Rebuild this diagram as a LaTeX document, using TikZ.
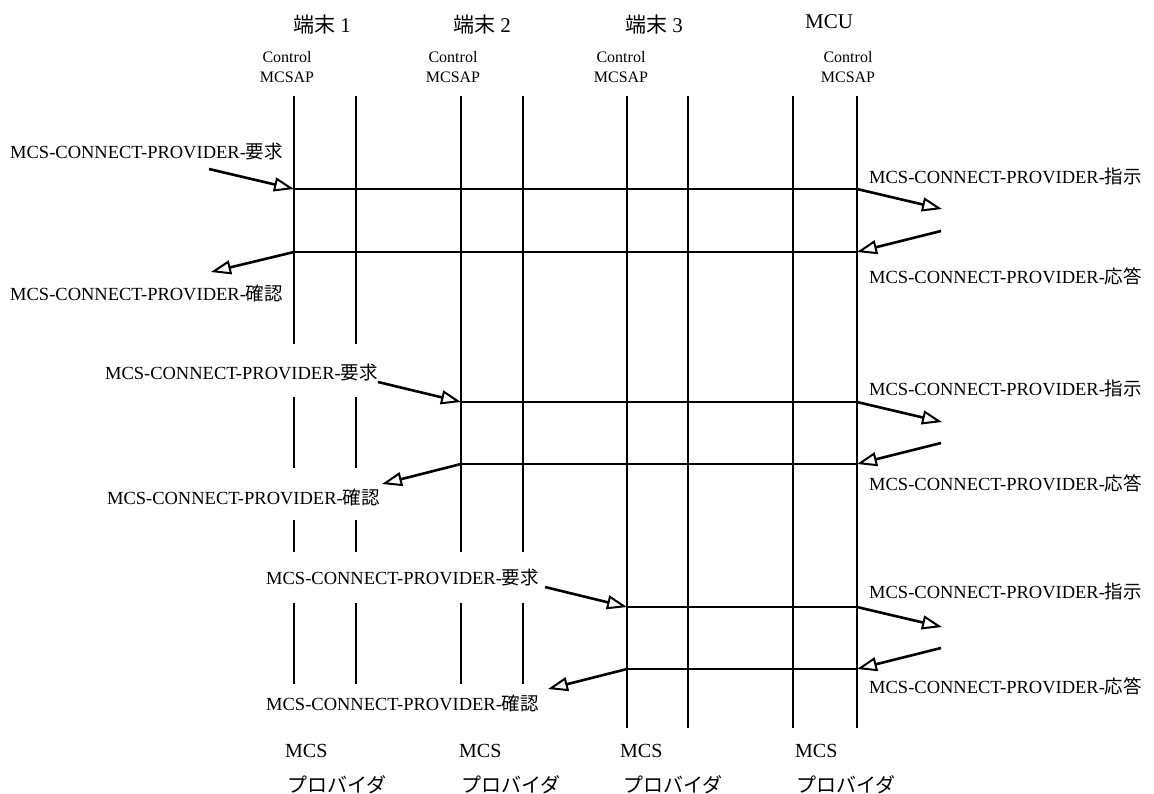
\documentclass[tikz,border=0pt]{standalone}
\usepackage{fontspec}
\setmainfont{Liberation Serif}
\newfontfamily\cjk{Noto Sans CJK JP}
\usetikzlibrary{arrows.meta}

\begin{document}
\begin{tikzpicture}[x=1pt,y=-1pt,
  lifeline/.style={line width=2pt},
  msg/.style={line width=2.2pt},
  prim/.style={line width=2.6pt,-{Triangle[open,length=20pt,width=14pt,line width=2pt]}},
  lbl/.style={font=\fontsize{18.5}{20}\selectfont, inner sep=0pt},
  head/.style={font=\fontsize{21}{24}\selectfont, inner sep=0pt},
  sap/.style={font=\fontsize{16}{20}\selectfont, inner sep=0pt, align=center},
  prov/.style={font=\fontsize{20}{24}\selectfont, inner sep=0pt, anchor=west},
]
\useasboundingbox (0,0) rectangle (1154,793);

% ---- headings ----
\node[head] (h1) at (322,25) {{\cjk 端末} 1};
\node[head] (h2) at (482,25) {{\cjk 端末} 2};
\node[head] (h3) at (654,25) {{\cjk 端末} 3};
\node[head] (h4) at (829,22) {MCU};

\node[sap] (s1) at (287,67) {Control\\MCSAP};
\node[sap] (s2) at (453,67) {Control\\MCSAP};
\node[sap] (s3) at (621,67) {Control\\MCSAP};
\node[sap] (s4) at (848,67) {Control\\MCSAP};

% ---- lifelines ----
% terminal 1: broken where the left-hand labels cross it
\foreach \x in {294,356} {
  \draw[lifeline] (\x,96) -- (\x,344) (\x,397) -- (\x,468)
                  (\x,520) -- (\x,552) (\x,603) -- (\x,684);
}
% terminal 2
\foreach \x in {461,523} {
  \draw[lifeline] (\x,96) -- (\x,552) (\x,603) -- (\x,684);
}
% terminal 3 and MCU
\foreach \x in {627,688,793,857} {
  \draw[lifeline] (\x,96) -- (\x,728);
}

% ---- connection points ----
\coordinate (q1a) at (294,189); \coordinate (q1b) at (857,189);
\coordinate (p1a) at (294,252); \coordinate (p1b) at (857,252);
\coordinate (q2a) at (461,402); \coordinate (q2b) at (857,402);
\coordinate (p2a) at (461,464); \coordinate (p2b) at (857,464);
\coordinate (q3a) at (627,607); \coordinate (q3b) at (857,607);
\coordinate (p3a) at (627,669); \coordinate (p3b) at (857,669);

% free ends of the primitive arrows
\coordinate (req1) at (209,169); \coordinate (cnf1) at (211,272);
\coordinate (ind1) at (942,209); \coordinate (rsp1) at (941,231);
\coordinate (req2) at (378,382); \coordinate (cnf2) at (382,484);
\coordinate (ind2) at (942,422); \coordinate (rsp2) at (941,443);
\coordinate (req3) at (545,587); \coordinate (cnf3) at (548,689);
\coordinate (ind3) at (942,627); \coordinate (rsp3) at (941,648);

% ---- MCS paths ----
\draw[msg] (q1a) -- (q1b);
\draw[msg] (p1a) -- (p1b);
\draw[msg] (q2a) -- (q2b);
\draw[msg] (p2a) -- (p2b);
\draw[msg] (q3a) -- (q3b);
\draw[msg] (p3a) -- (p3b);

% ---- service primitives ----
\draw[prim] (req1) -- (q1a);
\draw[prim] (q1b) -- (ind1);
\draw[prim] (rsp1) -- (p1b);
\draw[prim] (p1a) -- (cnf1);

\draw[prim] (req2) -- (q2a);
\draw[prim] (q2b) -- (ind2);
\draw[prim] (rsp2) -- (p2b);
\draw[prim] (p2a) -- (cnf2);

\draw[prim] (req3) -- (q3a);
\draw[prim] (q3b) -- (ind3);
\draw[prim] (rsp3) -- (p3b);
\draw[prim] (p3a) -- (cnf3);

% ---- primitive labels ----
\node[lbl,anchor=west] (lq1) at (10,152)  {MCS-CONNECT-PROVIDER-{\cjk 要求}};
\node[lbl,anchor=west] (lc1) at (10,293)  {MCS-CONNECT-PROVIDER-{\cjk 確認}};
\node[lbl,anchor=west] (li1) at (869,176) {MCS-CONNECT-PROVIDER-{\cjk 指示}};
\node[lbl,anchor=west] (lr1) at (869,276) {MCS-CONNECT-PROVIDER-{\cjk 応答}};

\node[lbl,anchor=east] (lq2) at (378,372) {MCS-CONNECT-PROVIDER-{\cjk 要求}};
\node[lbl,anchor=east] (lc2) at (380,497) {MCS-CONNECT-PROVIDER-{\cjk 確認}};
\node[lbl,anchor=west] (li2) at (869,388) {MCS-CONNECT-PROVIDER-{\cjk 指示}};
\node[lbl,anchor=west] (lr2) at (869,483) {MCS-CONNECT-PROVIDER-{\cjk 応答}};

\node[lbl,anchor=west] (lq3) at (266,577) {MCS-CONNECT-PROVIDER-{\cjk 要求}};
\node[lbl,anchor=west] (lc3) at (266,703) {MCS-CONNECT-PROVIDER-{\cjk 確認}};
\node[lbl,anchor=west] (li3) at (869,591) {MCS-CONNECT-PROVIDER-{\cjk 指示}};
\node[lbl,anchor=west] (lr3) at (869,686) {MCS-CONNECT-PROVIDER-{\cjk 応答}};

% ---- MCS providers ----
\node[prov] (m1) at (285,751) {MCS};
\node[prov] (m2) at (459,751) {MCS};
\node[prov] (m3) at (620,751) {MCS};
\node[prov] (m4) at (795,751) {MCS};
\node[prov] (v1) at (287,785) {\cjk プロバイダ};
\node[prov] (v2) at (461,785) {\cjk プロバイダ};
\node[prov] (v3) at (623,785) {\cjk プロバイダ};
\node[prov] (v4) at (796,785) {\cjk プロバイダ};
\end{tikzpicture}
\end{document}
